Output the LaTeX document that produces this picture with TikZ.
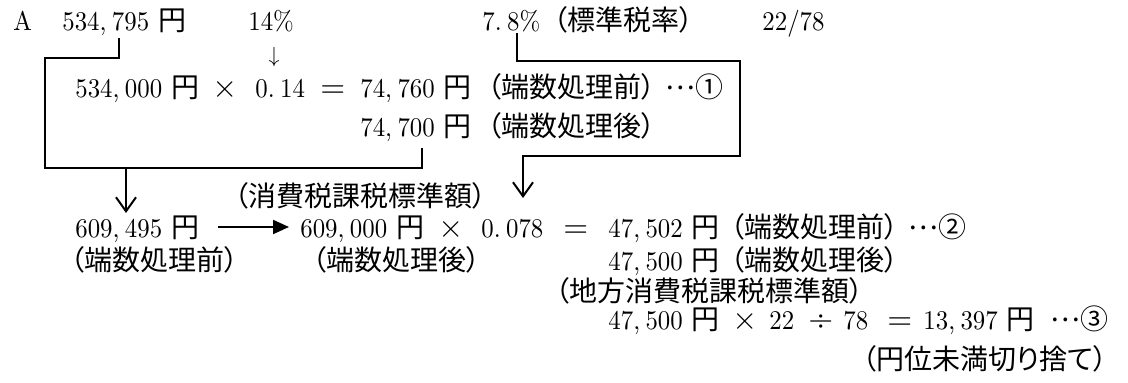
\documentclass[tikz,border=0pt]{standalone}
\usepackage{fontspec}
\newfontfamily\jp[RawFeature=+palt]{Noto Sans CJK JP}
\newfontfamily\numfont[FakeStretch=0.92]{lmroman10-regular.otf}
\newfontfamily\symfont{lmroman10-regular.otf}
\usetikzlibrary{arrows.meta}
\newcommand\kc{,\kern.2em}
\newcommand\kd{.\kern.2em}
\newcommand\jdots{\raisebox{.3em}{…}}
\begin{document}
\begin{tikzpicture}[x=0.5pt,y=-0.5pt,
  num/.style={anchor=base west,inner sep=0pt,font=\fontsize{13.5pt}{16pt}\selectfont\numfont},
  sym/.style={anchor=base west,inner sep=0pt,font=\fontsize{16pt}{18pt}\selectfont\symfont},
  jtxt/.style={anchor=base west,inner sep=0pt,font=\fontsize{14pt}{17pt}\selectfont\jp},
  wire/.style={line width=1pt},
  openhead/.style={-{Straight Barb[length=7pt,width=10pt]}},
  fillhead/.style={-{Triangle[length=8pt,width=7pt]}}]
\useasboundingbox (0,0) rectangle (1128,383);
% row 1
\node[num] (A) at (13,31) {A};
\node[num] (n1) at (62,31) {534\kc795};
\node[jtxt] (y1) at ([xshift=4pt]n1.base east) {円};
\node[num] (p14) at (248,31) {14\%};
\node[num] (p78) at (482,31) {7\kd8\%};
\node[jtxt] (std) at (553,31) {（標準税率）};
\node[num] (r2278) at (762,31) {22/78};
\node[anchor=base,inner sep=0pt,font=\fontsize{11pt}{13pt}\selectfont] (dn) at (274,63) {$\downarrow$};
% row 2
\node[num] (n2) at (75,98) {534\kc000};
\node[jtxt] (y2) at ([xshift=4pt]n2.base east) {円};
\node[sym] (x2) at (212,98) {×};
\node[num] (r14) at (255,98) {0\kd14};
\node[sym] (e2) at (320,98) {=};
\node[num] (n3) at (360,98) {74\kc760};
\node[jtxt] (y3) at ([xshift=4pt]n3.base east) {円};
\node[jtxt] (b1) at (487,98) {（端数処理前）\kern-.5em};
\node[jtxt] (c1) at (665,98) {\jdots①};
% row 3
\node[num] (n4) at (360,137) {74\kc700};
\node[jtxt] (y4) at ([xshift=4pt]n4.base east) {円};
\node[jtxt] (a1) at (487,137) {（端数処理後）};
% base label
\node[jtxt] (k1) at (234,207) {（消費税課税標準額）};
% row 5
\node[num] (n5) at (75,238) {609\kc495};
\node[jtxt] (y5) at ([xshift=4pt]n5.base east) {円};
\node[num] (n6) at (300,238) {609\kc000};
\node[jtxt] (y6) at ([xshift=4pt]n6.base east) {円};
\node[sym] (x5) at (438,238) {×};
\node[num] (r078) at (481,238) {0\kd078};
\node[sym] (e5) at (563,238) {=};
\node[num] (n7) at (608,238) {47\kc502};
\node[jtxt] (y7) at ([xshift=4pt]n7.base east) {円};
\node[jtxt] (b2) at (730,238) {（端数処理前）\kern-.5em};
\node[jtxt] (c2) at (908,238) {\jdots②};
% row 6
\node[jtxt] (b3) at (70,271) {（端数処理前）};
\node[jtxt] (a2) at (312,271) {（端数処理後）};
\node[num] (n8) at (608,271) {47\kc500};
\node[jtxt] (y8) at ([xshift=4pt]n8.base east) {円};
\node[jtxt] (a3) at (730,271) {（端数処理後）};
% local label
\node[jtxt] (k2) at (555,302) {（地方消費税課税標準額）};
% row 8
\node[num] (n9) at (608,330) {47\kc500};
\node[jtxt] (y9) at ([xshift=4pt]n9.base east) {円};
\node[sym] (x8) at (732,330) {×};
\node[num] (m22) at (769,330) {22};
\node[sym] (dv) at (808,330) {÷};
\node[num] (m78) at (843,330) {78};
\node[sym] (e8) at (887,330) {=};
\node[num] (n10) at (923,330) {13\kc397};
\node[jtxt] (y10) at ([xshift=4pt]n10.base east) {円};
\node[jtxt] (c3) at (1050,330) {\jdots③};
% row 9
\node[jtxt] (t1) at (862,370) {（円位未満切り捨て）};
% connectors
\coordinate (L0) at (119,38);
\coordinate (L1) at (45,58);
\coordinate (L2) at (422,168);
\coordinate (L3) at (422,148);
\coordinate (L4) at (126,168);
\coordinate (L5) at (126,213);
\draw[wire] (L0) |- (L1) |- (L2) -- (L3);
\draw[wire,openhead] (L4) -- (L5);
\coordinate (R0) at (517,33);
\coordinate (R1) at (740,61);
\coordinate (R2) at (523,156);
\coordinate (R3) at (523,198);
\draw[wire,openhead] (R0) |- (R1) |- (R2) -- (R3);
\coordinate (H0) at (218,227);
\coordinate (H1) at (289,227);
\draw[wire,fillhead] (H0) -- (H1);
\end{tikzpicture}
\end{document}
